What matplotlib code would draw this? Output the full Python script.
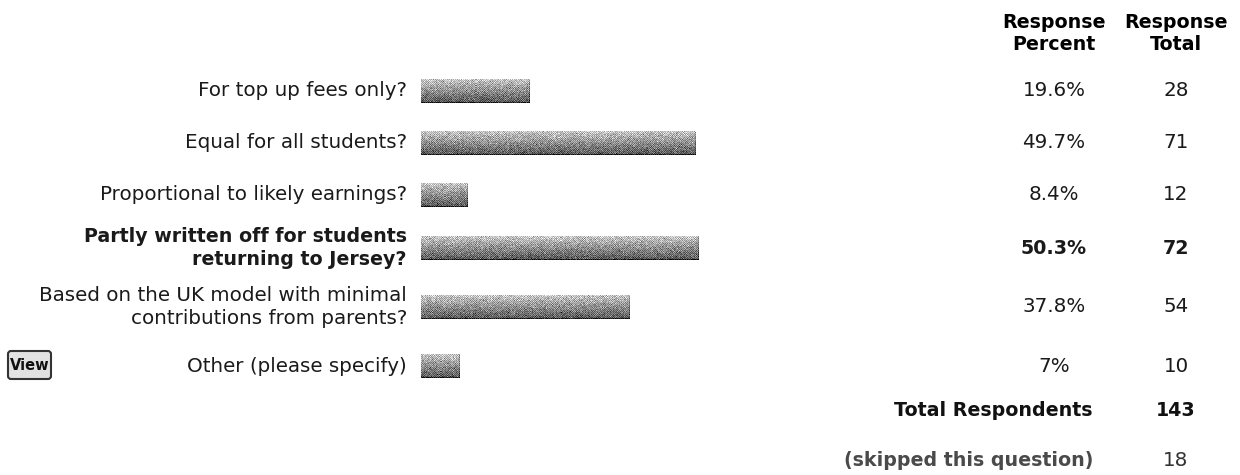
import numpy as np
import matplotlib.pyplot as plt
from matplotlib.patches import FancyBboxPatch

# survey answers and results
answers = [
    "For top up fees only?",
    "Equal for all students?",
    "Proportional to likely earnings?",
    "Partly written off for students\nreturning to Jersey?",
    "Based on the UK model with minimal\ncontributions from parents?",
    "Other (please specify)",
]
percent = [19.6, 49.7, 8.4, 50.3, 37.8, 7]
total = [28, 71, 12, 72, 54, 10]
top_answer = 3
respondents = 143
skipped = 18

# layout (pixels)
W, H = 1240, 475
row_y = [91, 143, 195, 248, 307, 366]
bar_x0 = 421
px_per_pct = 5.52
bar_h = 24
label_x = 407
pct_x = 1054
tot_x = 1176
FS = 14.3
FSB = 13.7
INK = '#1a1a1a'


def bar_texture(ncols, nrows, seed):
    rng = np.random.default_rng(seed)
    base = np.linspace(0.78, 0.34, nrows)[:, None] * np.ones((1, ncols))
    ii, jj = np.indices((nrows, ncols))
    checker = ((ii + jj) % 2) * 0.2 - 0.1
    img = base + checker + rng.normal(0, 0.08, (nrows, ncols))
    img[-1, :] -= 0.25
    img[:, -1] -= 0.15
    return np.clip(img, 0, 1)


fig = plt.figure(figsize=(W / 100, H / 100), dpi=100)
ax = fig.add_axes([0, 0, 1, 1])
ax.set_xlim(0, W)
ax.set_ylim(H, 0)
ax.axis('off')

bx = fig.add_axes([bar_x0 / W, 0, 100 * px_per_pct / W, 1])
bx.set_xlim(0, 100)
bx.set_ylim(H, 0)
bx.axis('off')

bars = bx.barh(row_y, percent, height=bar_h, color='none', edgecolor='none')
for k, (b, p) in enumerate(zip(bars, percent)):
    y = row_y[k]
    tex = bar_texture(max(int(p * px_per_pct), 2), bar_h, k)
    im = bx.imshow(tex, cmap='gray', vmin=0, vmax=1, aspect='auto',
                   extent=(0, p, y + bar_h / 2, y - bar_h / 2),
                   interpolation='nearest', origin='upper')
    im.set_clip_path(b)
bx.set_xlim(0, 100)
bx.set_ylim(H, 0)

# headers
for x, lines in [(pct_x, ("Response", "Percent")), (tot_x, ("Response", "Total"))]:
    ax.text(x, 23, lines[0], ha='center', va='center', fontsize=FSB, fontweight='bold', color='black')
    ax.text(x, 45, lines[1], ha='center', va='center', fontsize=FSB, fontweight='bold', color='black')

# rows
for k, (lab, p, t) in enumerate(zip(answers, percent, total)):
    y = row_y[k]
    bold = k == top_answer
    w = 'bold' if bold else 'normal'
    fs = FSB if bold else FS
    ax.text(label_x, y, lab, ha='right', va='center', fontsize=fs,
            fontweight=w, color=INK, linespacing=1.3)
    ax.text(pct_x, y, f"{p:g}%", ha='center', va='center', fontsize=fs,
            fontweight=w, color=INK)
    ax.text(tot_x, y, str(t), ha='center', va='center', fontsize=fs,
            fontweight=w, color=INK)

# footer rows
ax.text(1093, 411, "Total Respondents", ha='right', va='center', fontsize=FSB,
        fontweight='bold', color='#111111')
ax.text(tot_x, 411, str(respondents), ha='center', va='center', fontsize=FSB,
        fontweight='bold', color='#111111')
ax.text(1093, 461, "(skipped this question)", ha='right', va='center', fontsize=FSB,
        fontweight='bold', color='#4a4a4a')
ax.text(tot_x, 461, str(skipped), ha='center', va='center', fontsize=FS,
        color='#333333')

# view button
btn = FancyBboxPatch((8, 351), 43, 28, boxstyle='round,pad=0,rounding_size=3',
                     facecolor='#e2e2e2', edgecolor='#333333', linewidth=1.5)
ax.add_patch(btn)
ax.text(29.5, 366, "View", ha='center', va='center', fontsize=10.5,
        fontweight='bold', color='#111111')

fig.savefig('out.png', dpi=100)
